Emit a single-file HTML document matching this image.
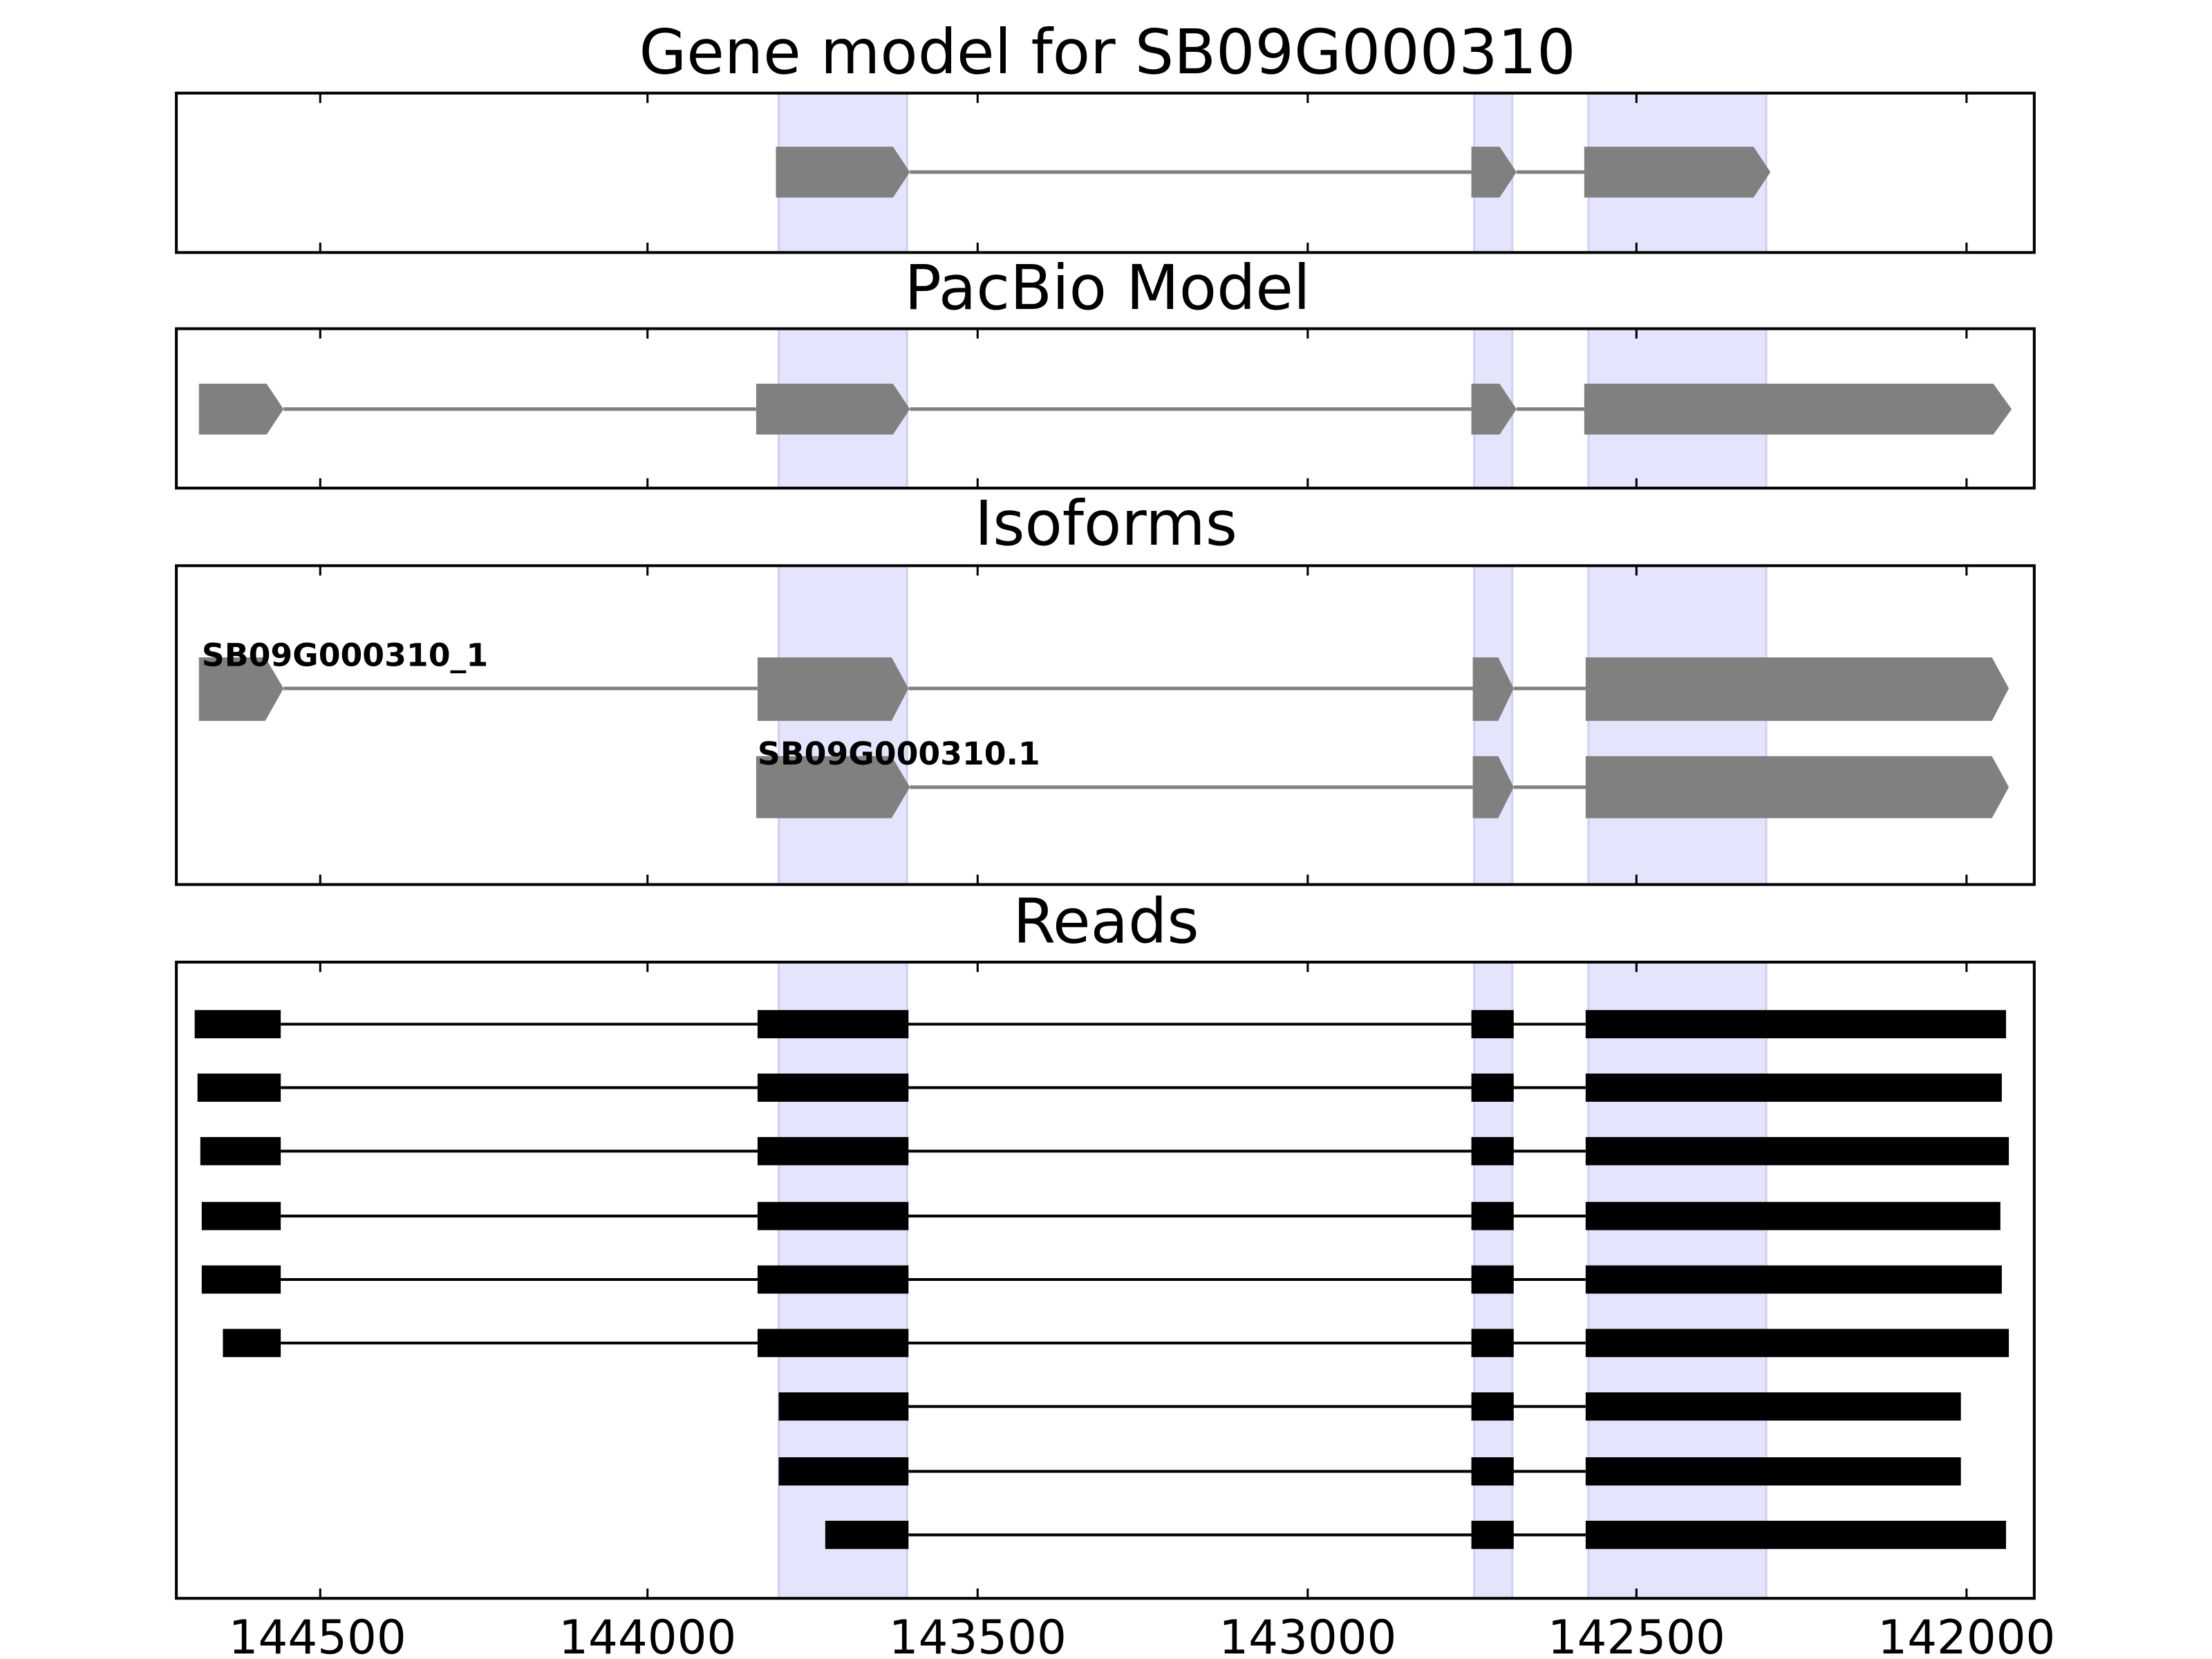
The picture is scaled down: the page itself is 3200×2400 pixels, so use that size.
<!DOCTYPE html>
<html><head><meta charset="utf-8"><style>
html,body{margin:0;padding:0;background:#fff;}
svg{display:block;}
text{font-family:"DejaVu Sans","Liberation Sans",sans-serif;}
</style></head><body>
<svg width="3200" height="2400" viewBox="0 0 1568 1176" xmlns="http://www.w3.org/2000/svg">
<!-- titles -->
<g font-size="43.5" text-anchor="middle" fill="#000">
<text x="785" y="52">Gene model for SB09G000310</text>
<text x="785" y="219">PacBio Model</text>
<text x="784" y="386">Isoforms</text>
<text x="784" y="668">Reads</text>
</g>
<!-- shaded bands per panel -->
<g fill="#e4e4fc" stroke="#d0d0f0" stroke-width="1.5">
<rect x="552" y="66" width="91" height="113"/><rect x="1045" y="66" width="27" height="113"/><rect x="1126" y="66" width="126" height="113"/>
<rect x="552" y="233" width="91" height="113"/><rect x="1045" y="233" width="27" height="113"/><rect x="1126" y="233" width="126" height="113"/>
<rect x="552" y="401" width="91" height="226"/><rect x="1045" y="401" width="27" height="226"/><rect x="1126" y="401" width="126" height="226"/>
<rect x="552" y="682" width="91" height="451"/><rect x="1045" y="682" width="27" height="451"/><rect x="1126" y="682" width="126" height="451"/>
</g>
<!-- panel 1 -->
<g stroke="#808080" stroke-width="2.5"><line x1="645" y1="122" x2="1043" y2="122"/><line x1="1075" y1="122" x2="1123" y2="122"/></g>
<g fill="#808080">
<polygon points="550,104 633,104 645,122 633,140 550,140"/>
<polygon points="1043,104 1063,104 1075,122 1063,140 1043,140"/>
<polygon points="1123,104 1243,104 1255,122 1243,140 1123,140"/>
</g>
<!-- panel 2 -->
<g stroke="#808080" stroke-width="2.5"><line x1="201" y1="290" x2="536" y2="290"/><line x1="645" y1="290" x2="1043" y2="290"/><line x1="1075" y1="290" x2="1123" y2="290"/></g>
<g fill="#808080">
<polygon points="141,272 189,272 201,290 189,308 141,308"/>
<polygon points="536,272 633,272 645,290 633,308 536,308"/>
<polygon points="1043,272 1063,272 1075,290 1063,308 1043,308"/>
<polygon points="1123,272 1413,272 1426,290 1413,308 1123,308"/>
</g>
<!-- panel 3 -->
<g stroke="#808080" stroke-width="2.5">
<line x1="201" y1="488" x2="537" y2="488"/><line x1="644" y1="488" x2="1044" y2="488"/><line x1="1073" y1="488" x2="1124" y2="488"/>
<line x1="645" y1="558" x2="1044" y2="558"/><line x1="1073" y1="558" x2="1124" y2="558"/>
</g>
<g fill="#808080">
<polygon points="141,466 188,466 201,488 188,511 141,511"/>
<polygon points="537,466 632,466 644,488 632,511 537,511"/>
<polygon points="1044,466 1062,466 1073,488 1062,511 1044,511"/>
<polygon points="1124,466 1412,466 1424,488 1412,511 1124,511"/>
<polygon points="536,536 632,536 645,558 632,580 536,580"/>
<polygon points="1044,536 1062,536 1073,558 1062,580 1044,580"/>
<polygon points="1124,536 1412,536 1424,558 1412,580 1124,580"/>
</g>
<g font-size="22.4" font-weight="bold" fill="#000">
<text x="143" y="472">SB09G000310_1</text>
<text x="537" y="542">SB09G000310.1</text>
</g>
<!-- reads -->
<g stroke="#000" stroke-width="2">
<line x1="199" y1="726" x2="1124" y2="726"/><line x1="199" y1="771" x2="1124" y2="771"/><line x1="199" y1="816" x2="1124" y2="816"/>
<line x1="199" y1="862" x2="1124" y2="862"/><line x1="199" y1="907" x2="1124" y2="907"/><line x1="199" y1="952" x2="1124" y2="952"/>
<line x1="644" y1="997" x2="1124" y2="997"/><line x1="644" y1="1043" x2="1124" y2="1043"/><line x1="644" y1="1088" x2="1124" y2="1088"/>
</g>
<g fill="#000">
<rect x="138" y="716" width="61" height="20"/><rect x="537" y="716" width="107" height="20"/><rect x="1043" y="716" width="30" height="20"/><rect x="1124" y="716" width="298" height="20"/>
<rect x="140" y="761" width="59" height="20"/><rect x="537" y="761" width="107" height="20"/><rect x="1043" y="761" width="30" height="20"/><rect x="1124" y="761" width="295" height="20"/>
<rect x="142" y="806" width="57" height="20"/><rect x="537" y="806" width="107" height="20"/><rect x="1043" y="806" width="30" height="20"/><rect x="1124" y="806" width="300" height="20"/>
<rect x="143" y="852" width="56" height="20"/><rect x="537" y="852" width="107" height="20"/><rect x="1043" y="852" width="30" height="20"/><rect x="1124" y="852" width="294" height="20"/>
<rect x="143" y="897" width="56" height="20"/><rect x="537" y="897" width="107" height="20"/><rect x="1043" y="897" width="30" height="20"/><rect x="1124" y="897" width="295" height="20"/>
<rect x="158" y="942" width="41" height="20"/><rect x="537" y="942" width="107" height="20"/><rect x="1043" y="942" width="30" height="20"/><rect x="1124" y="942" width="300" height="20"/>
<rect x="552" y="987" width="92" height="20"/><rect x="1043" y="987" width="30" height="20"/><rect x="1124" y="987" width="266" height="20"/>
<rect x="552" y="1033" width="92" height="20"/><rect x="1043" y="1033" width="30" height="20"/><rect x="1124" y="1033" width="266" height="20"/>
<rect x="585" y="1078" width="59" height="20"/><rect x="1043" y="1078" width="30" height="20"/><rect x="1124" y="1078" width="298" height="20"/>
</g>
<!-- frames -->
<g fill="none" stroke="#000" stroke-width="2">
<rect x="125" y="66" width="1317" height="113"/>
<rect x="125" y="233" width="1317" height="113"/>
<rect x="125" y="401" width="1317" height="226"/>
<rect x="125" y="682" width="1317" height="451"/>
</g>
<!-- ticks -->
<g stroke="#000" stroke-width="1.5">
<path d="M227 66v7M459 66v7M693 66v7M927 66v7M1160 66v7M1394 66v7 M227 179v-7M459 179v-7M693 179v-7M927 179v-7M1160 179v-7M1394 179v-7"/>
<path d="M227 233v7M459 233v7M693 233v7M927 233v7M1160 233v7M1394 233v7 M227 346v-7M459 346v-7M693 346v-7M927 346v-7M1160 346v-7M1394 346v-7"/>
<path d="M227 401v7M459 401v7M693 401v7M927 401v7M1160 401v7M1394 401v7 M227 627v-7M459 627v-7M693 627v-7M927 627v-7M1160 627v-7M1394 627v-7"/>
<path d="M227 682v7M459 682v7M693 682v7M927 682v7M1160 682v7M1394 682v7 M227 1133v-7M459 1133v-7M693 1133v-7M927 1133v-7M1160 1133v-7M1394 1133v-7"/>
</g>
<g font-size="33" text-anchor="middle" fill="#000">
<text x="225" y="1172">144500</text><text x="459" y="1172">144000</text><text x="693" y="1172">143500</text>
<text x="927" y="1172">143000</text><text x="1160" y="1172">142500</text><text x="1394" y="1172">142000</text>
</g>
</svg>
</body></html>
